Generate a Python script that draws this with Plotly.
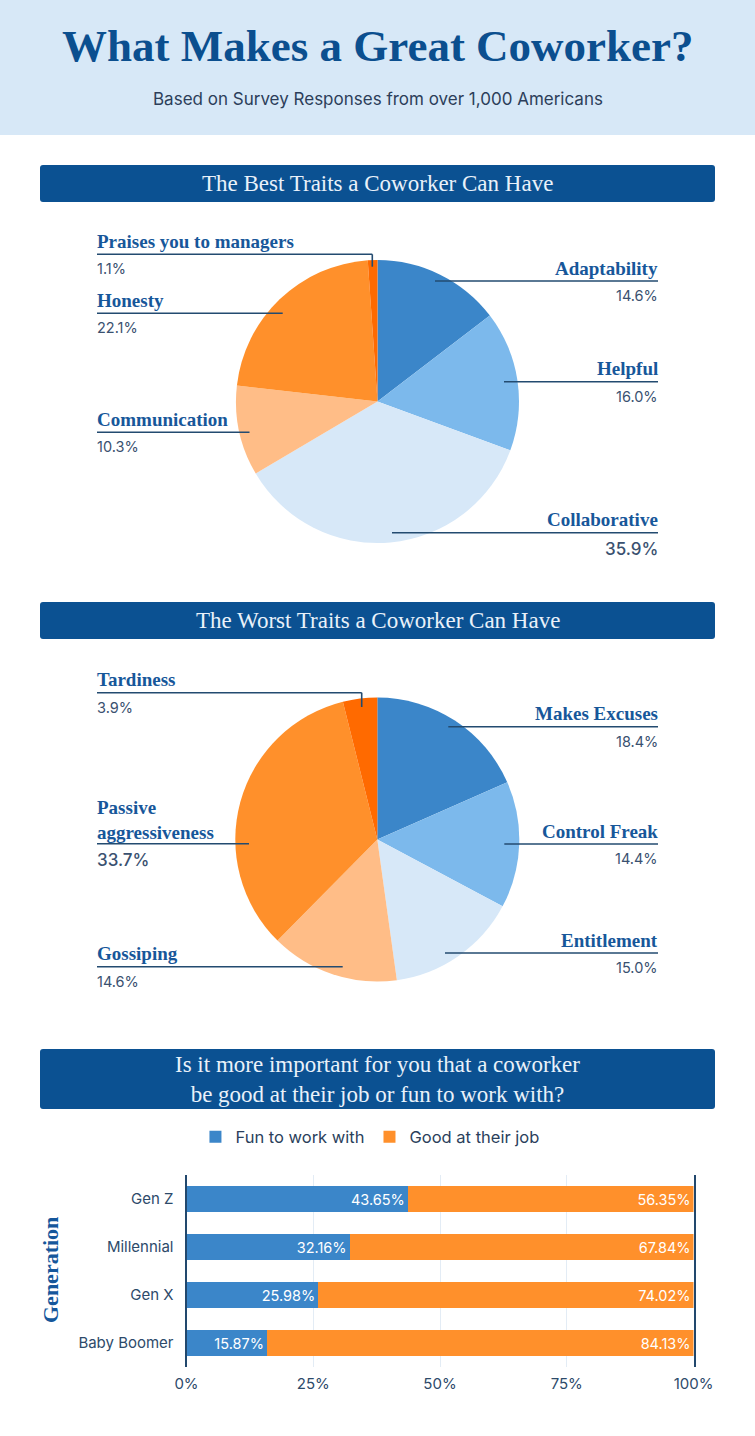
import plotly.graph_objects as go

W, H = 755, 1436

# ---------------- data ----------------
best_labels = ["Adaptability", "Helpful", "Collaborative", "Communication", "Honesty", "Praises you to managers"]
best_values = [14.6, 16.0, 35.9, 10.3, 22.1, 1.1]

worst_labels = ["Makes Excuses", "Control Freak", "Entitlement", "Gossiping", "Passive<br>aggressiveness", "Tardiness"]
worst_values = [18.4, 14.4, 15.0, 14.6, 33.7, 3.9]

generations = ["Gen Z", "Millennial", "Gen X", "Baby Boomer"]
fun_values = [43.65, 32.16, 25.98, 15.87]
good_values = [56.35, 67.84, 74.02, 84.13]
x_ticks = [0, 25, 50, 75, 100]
x_tick_labels = ["0%", "25%", "50%", "75%", "100%"]

# ---------------- style ----------------
slice_colors = ["#3b86c9", "#7cb9ec", "#d7e8f8", "#ffbd87", "#ff902b", "#ff6a00"]
BLUE_BAR = "#3b86c9"
ORANGE_BAR = "#ff902b"
NAVY = "#0b5192"
LABEL_BLUE = "#17579a"
LINE_COL = "#234b70"
PCT_COL = "#3a5170"
SERIF = "Liberation Serif"
SANS = "Inter"

# label layout: (side, line_y, inner_x, tick_to_y)
best_label_layout = [
    ("right", 281.0, 435.0, None),
    ("right", 381.7, 504.0, None),
    ("right", 532.7, 392.0, None),
    ("left", 432.3, 249.5, None),
    ("left", 313.3, 282.7, None),
    ("left", 254.3, 372.3, 266.7),
]
worst_label_layout = [
    ("right", 726.7, 448.3, None),
    ("right", 844.0, 504.3, None),
    ("right", 953.0, 445.0, None),
    ("left", 966.7, 342.7, None),
    ("left", 843.7, 249.0, None),
    ("left", 692.7, 361.7, 707.0),
]
LEFT_X, RIGHT_X = 97, 658
LEFT_TX, RIGHT_TX = 95, 660


def px(x):
    return x / W


def py(y):
    return 1 - y / H


def pie_domain(cx, cy, r):
    return dict(x=[px(cx - r), px(cx + r)], y=[py(cy + r), py(cy - r)])


def rounded_rect(x0, y0, x1, y1, r):
    X0, X1 = px(x0), px(x1)
    Y0, Y1 = py(y0), py(y1)
    rx, ry = r / W, r / H
    return (f"M{X0+rx},{Y0} L{X1-rx},{Y0} Q{X1},{Y0} {X1},{Y0-ry} "
            f"L{X1},{Y1+ry} Q{X1},{Y1} {X1-rx},{Y1} L{X0+rx},{Y1} "
            f"Q{X0},{Y1} {X0},{Y1+ry} L{X0},{Y0-ry} Q{X0},{Y0} {X0+rx},{Y0} Z")


fig = go.Figure()

fig.add_trace(go.Pie(
    labels=best_labels, values=best_values, sort=False, direction="clockwise",
    rotation=0, marker=dict(colors=slice_colors, line=dict(width=0)),
    textinfo="none", hoverinfo="label+percent", showlegend=False,
    domain=pie_domain(377.5, 401.5, 141.5),
))
fig.add_trace(go.Pie(
    labels=worst_labels, values=worst_values, sort=False, direction="clockwise",
    rotation=0, marker=dict(colors=slice_colors, line=dict(width=0)),
    textinfo="none", hoverinfo="label+percent", showlegend=False,
    domain=pie_domain(377.3, 839.5, 142.0),
))

fig.add_trace(go.Bar(
    y=generations, x=fun_values, orientation="h", name="Fun to work with",
    marker=dict(color=BLUE_BAR, line=dict(width=0)),
    texttemplate="%{x:.2f}%", textposition="inside", insidetextanchor="end",
    textangle=0, textfont=dict(family=SANS, size=14.5, color="white"),
    xaxis="x", yaxis="y",
))
fig.add_trace(go.Bar(
    y=generations, x=good_values, orientation="h", name="Good at their job",
    marker=dict(color=ORANGE_BAR, line=dict(width=0)),
    texttemplate="%{x:.2f}%", textposition="inside", insidetextanchor="end",
    textangle=0, textfont=dict(family=SANS, size=14.5, color="white"),
    xaxis="x", yaxis="y",
))

shapes = []
annotations = []

# header band
shapes.append(dict(type="rect", xref="paper", yref="paper", x0=0, x1=1, y0=py(135), y1=1,
                   fillcolor="#d7e8f7", line=dict(width=0), layer="below"))
annotations.append(dict(text="What Makes a Great Coworker?", x=px(377.5), y=py(46), xref="paper", yref="paper",
                        showarrow=False, xanchor="center", yanchor="middle",
                        font=dict(family=SERIF, size=45, color="#0b4f8f", weight=700)))
annotations.append(dict(text="Based on Survey Responses from over 1,000 Americans", x=px(377.5), y=py(99),
                        xref="paper", yref="paper", showarrow=False, xanchor="center", yanchor="middle",
                        font=dict(family=SANS, size=17, color="#2c3e5a")))

# section bars
sections = [
    (165, 202, "The Best Traits a Coworker Can Have"),
    (602, 639, "The Worst Traits a Coworker Can Have"),
    (1049, 1109, "Is it more important for you that a coworker<br>be good at their job or fun to work with?"),
]
for y0, y1, txt in sections:
    shapes.append(dict(type="path", xref="paper", yref="paper", path=rounded_rect(40, y0, 715, y1, 3),
                       fillcolor=NAVY, line=dict(width=0), layer="below"))
    annotations.append(dict(text=txt, x=px(377.5), y=py((y0 + y1) / 2), xref="paper", yref="paper",
                            showarrow=False, xanchor="center", yanchor="middle",
                            font=dict(family=SERIF, size=23, color="#e9f1fa")))


def add_pie_labels(labels, values, layout):
    vmax = max(values)
    for lab, val, (side, ly, ix, tick_y) in zip(labels, values, layout):
        big = val == vmax
        n_lines = lab.count("<br>") + 1
        if side == "left":
            x0, x1, tx, anchor = LEFT_X, ix, LEFT_TX, "left"
        else:
            x0, x1, tx, anchor = ix, RIGHT_X, RIGHT_TX, "right"
        shapes.append(dict(type="line", xref="paper", yref="paper", x0=px(x0), x1=px(x1), y0=py(ly), y1=py(ly),
                           line=dict(color=LINE_COL, width=1.6)))
        if tick_y is not None:
            shapes.append(dict(type="line", xref="paper", yref="paper", x0=px(ix), x1=px(ix), y0=py(ly),
                               y1=py(tick_y), line=dict(color=LINE_COL, width=1.6)))
        name_cy = ly - 13 - (n_lines - 1) * 10.75
        annotations.append(dict(text=lab, x=px(tx), y=py(name_cy), xref="paper", yref="paper",
                                showarrow=False, xanchor=anchor, yanchor="middle", align=anchor,
                                font=dict(family=SERIF, size=19, color=LABEL_BLUE, weight=700)))
        annotations.append(dict(text=f"{val:.1f}%", x=px(tx), y=py(ly + (16.5 if big else 14.5)),
                                xref="paper", yref="paper", showarrow=False, xanchor=anchor, yanchor="middle",
                                font=dict(family=SANS, size=17 if big else 14.5, color=PCT_COL,
                                          weight=500 if big else 400)))


add_pie_labels(best_labels, best_values, best_label_layout)
add_pie_labels(worst_labels, worst_values, worst_label_layout)

# y-axis title for bar chart
annotations.append(dict(text="Generation", x=px(50), y=py(1270), xref="paper", yref="paper", showarrow=False,
                        textangle=-90, xanchor="center", yanchor="middle",
                        font=dict(family=SERIF, size=22, color="#15579b", weight=700)))

fig.update_layout(
    width=W, height=H, autosize=False,
    margin=dict(l=0, r=0, t=0, b=0, pad=0, autoexpand=False),
    paper_bgcolor="white", plot_bgcolor="white",
    barmode="stack", bargap=0.45,
    shapes=shapes, annotations=annotations,
    showlegend=True,
    legend=dict(orientation="h", x=0.49, xanchor="center", y=py(1137), yanchor="middle",
                font=dict(family=SANS, size=16.5, color="#2b3f5c"), bgcolor="rgba(0,0,0,0)",
                itemwidth=30, traceorder="normal"),
    xaxis=dict(domain=[px(186.5), px(693.5)], range=[0, 100], tickvals=x_ticks, ticktext=x_tick_labels,
               showgrid=True, gridcolor="#e3ecf5", gridwidth=1, zeroline=False, showline=False,
               ticks="", ticklabelstandoff=6, fixedrange=True, automargin=False,
               tickfont=dict(family=SANS, size=15, color="#2d4a6a"), anchor="y"),
    yaxis=dict(domain=[py(1367), py(1175)], autorange="reversed", showline=True, linecolor="#22486d",
               linewidth=2, mirror=True, ticks="", showgrid=False, zeroline=False, ticklabelstandoff=8,
               fixedrange=True, automargin=False,
               tickfont=dict(family=SANS, size=15, color="#2d4a6a"), anchor="x"),
    font=dict(family=SANS),
)

fig.write_html(
    "out.html",
    config={"responsive": False, "displayModeBar": False},
    post_script="document.body.style.margin='0';document.body.style.overflow='hidden';",
)
